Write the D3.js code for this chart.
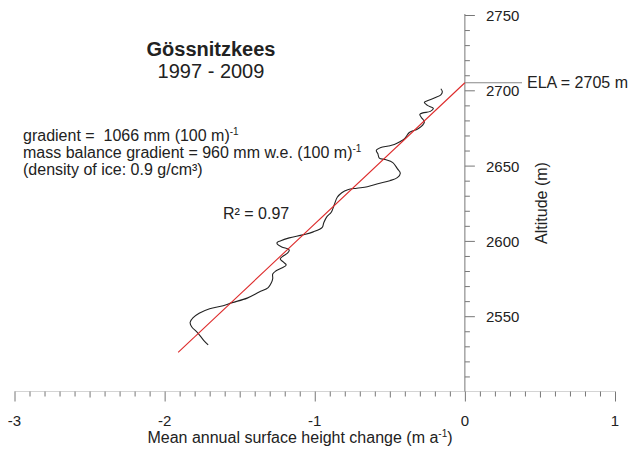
<!DOCTYPE html>
<html>
<head>
<meta charset="utf-8">
<script src="https://cdn.jsdelivr.net/npm/d3@7"></script>
<style>
  html, body { margin: 0; padding: 0; background: #fff; }
  svg { display: block; font-family: "Liberation Sans", Arial, sans-serif; }
</style>
</head>
<body>
<svg id="chart" width="630" height="450"></svg>
<script>
// ---- data ----
const hChange = [-1.71,-1.74,-1.78,-1.82,-1.83,-1.81,-1.77,-1.70,-1.61,-1.55,-1.45,-1.37,-1.31,-1.29,-1.28,-1.28,-1.26,-1.22,-1.19,-1.21,-1.23,-1.21,-1.18,-1.17,-1.22,-1.25,-1.25,-1.23,-1.17,-1.08,-1.01,-0.95,-0.94,-0.92,-0.89,-0.87,-0.85,-0.82,-0.78,-0.72,-0.65,-0.58,-0.50,-0.45,-0.43,-0.45,-0.48,-0.53,-0.57,-0.58,-0.59,-0.56,-0.51,-0.47,-0.43,-0.40,-0.37,-0.32,-0.29,-0.27,-0.29,-0.30,-0.28,-0.23,-0.21,-0.25,-0.27,-0.25,-0.20,-0.16,-0.15,-0.16];
const altitude = [2531,2534,2539,2543,2546,2549,2552,2555,2557,2559,2562,2566,2569,2572,2575,2578,2580,2582,2584,2586,2588,2590,2592,2594,2596,2598,2599,2600,2602,2604,2606,2609,2612,2616,2619,2624,2629,2632,2634,2635,2636,2638,2640,2642,2645,2648,2652,2654,2655,2658,2660,2662,2663,2664,2666,2668,2672,2674,2676,2679,2682,2684,2685,2686,2688,2690,2692,2693,2695,2697,2699,2701];
const fitH = [-1.91, 0];
const fitZ = [2526, 2705];
const ela = 2705;
const xTicks = [-3, -2, -1, 0, 1];
const yTicks = [2550, 2600, 2650, 2700, 2750];

// ---- scales ----
const svg = d3.select("#chart");
const x = d3.scaleLinear().domain([-3, 1]).range([14.5, 615]);
const y = d3.scaleLinear().domain([2500, 2750]).range([391.5, 15]);
const axisColor = "#777";
const textColor = "#222";

// ---- x axis (ticks hanging down) ----
const xMinor = d3.range(-30, 11).map(d => d / 10);
svg.append("line")
  .attr("x1", x(-3)).attr("x2", x(1))
  .attr("y1", y(2500)).attr("y2", y(2500))
  .attr("stroke", "#d4d4d4").attr("stroke-width", 1);
const xAxis = d3.axisBottom(x)
  .tickValues(xMinor)
  .tickFormat("")
  .tickSizeOuter(0);
const gx = svg.append("g").attr("transform", `translate(0,${y(2500)})`).call(xAxis);
gx.select(".domain").remove();
gx.selectAll(".tick line")
  .attr("stroke", axisColor)
  .attr("y2", d => Math.abs(d - Math.round(d)) < 1e-6 ? 10 : (Math.abs(d * 2 - Math.round(d * 2)) < 1e-6 ? 6 : 5));
svg.append("g").selectAll("text").data(xTicks).join("text")
  .attr("x", d => x(d)).attr("y", 426)
  .attr("text-anchor", "middle")
  .attr("font-size", 15).attr("fill", textColor)
  .text(d => d);

// x title
const xt = svg.append("text")
  .attr("x", 300).attr("y", 443)
  .attr("text-anchor", "middle")
  .attr("font-size", 16).attr("fill", textColor);
xt.append("tspan").text("Mean annual surface height change (m a");
xt.append("tspan").attr("dy", -6).attr("font-size", 10).text("-1");
xt.append("tspan").attr("dy", 6).text(")");

// ---- y axis ----
const yMinor = d3.range(2510, 2751, 10);
const yAxis = d3.axisRight(y)
  .tickValues(yMinor)
  .tickFormat("")
  .tickSizeOuter(0);
const gy = svg.append("g").attr("transform", `translate(${x(0)},0)`).call(yAxis);
gy.select(".domain").attr("stroke", axisColor).attr("d", `M0,${y(2500)}V${y(2750) - 1}`);
gy.selectAll(".tick line")
  .attr("stroke", axisColor)
  .attr("x2", d => d % 50 === 0 ? 10 : 5);
svg.append("g").selectAll("text").data(yTicks).join("text")
  .attr("x", 486).attr("y", d => y(d) + 6)
  .attr("font-size", 15).attr("fill", textColor)
  .text(d => d);

svg.append("text")
  .attr("transform", `translate(547,203) rotate(-90)`)
  .attr("text-anchor", "middle")
  .attr("font-size", 16).attr("fill", textColor)
  .text("Altitude (m)");

// ELA line
svg.append("line")
  .attr("x1", x(0)).attr("x2", 522)
  .attr("y1", y(ela)).attr("y2", y(ela))
  .attr("stroke", "#888").attr("stroke-width", 1.2);
svg.append("text")
  .attr("x", 527).attr("y", y(ela) + 5)
  .attr("font-size", 16).attr("fill", textColor)
  .text("ELA = " + ela + " m");

// ---- data line ----
const pts = hChange.map((h, i) => [h, altitude[i]]);
svg.append("path")
  .datum(pts)
  .attr("fill", "none")
  .attr("stroke", "#222")
  .attr("stroke-width", 1.1)
  .attr("stroke-linejoin", "round")
  .attr("d", d3.line().x(d => x(d[0])).y(d => y(d[1])).curve(d3.curveCatmullRom.alpha(0.5)));

// ---- regression line ----
const fit = fitH.map((h, i) => [h, fitZ[i]]);
svg.append("path")
  .datum(fit)
  .attr("fill", "none")
  .attr("stroke", "#dd2a2a")
  .attr("stroke-width", 1.1)
  .attr("d", d3.line().x(d => x(d[0])).y(d => y(d[1])));

// ---- annotations ----
svg.append("text")
  .attr("x", 211).attr("y", 56)
  .attr("text-anchor", "middle")
  .attr("font-size", 20).attr("font-weight", "bold").attr("fill", textColor)
  .text("Gössnitzkees");
svg.append("text")
  .attr("x", 211).attr("y", 78)
  .attr("text-anchor", "middle")
  .attr("font-size", 20).attr("fill", textColor)
  .text("1997 - 2009");

const l1 = svg.append("text").attr("x", 23).attr("y", 141)
  .attr("font-size", 16).attr("fill", textColor).style("white-space", "pre");
l1.append("tspan").text("gradient =  1066 mm (100 m)");
l1.append("tspan").attr("dy", -6).attr("font-size", 10).text("-1");

const l2 = svg.append("text").attr("x", 23).attr("y", 158)
  .attr("font-size", 16).attr("fill", textColor);
l2.append("tspan").text("mass balance gradient = 960 mm w.e. (100 m)");
l2.append("tspan").attr("dy", -6).attr("font-size", 10).text("-1");

svg.append("text").attr("x", 23).attr("y", 175)
  .attr("font-size", 16).attr("fill", textColor)
  .text("(density of ice: 0.9 g/cm³)");

svg.append("text").attr("x", 223).attr("y", 219)
  .attr("font-size", 16).attr("fill", textColor)
  .text("R² = 0.97");
</script>
</body>
</html>
